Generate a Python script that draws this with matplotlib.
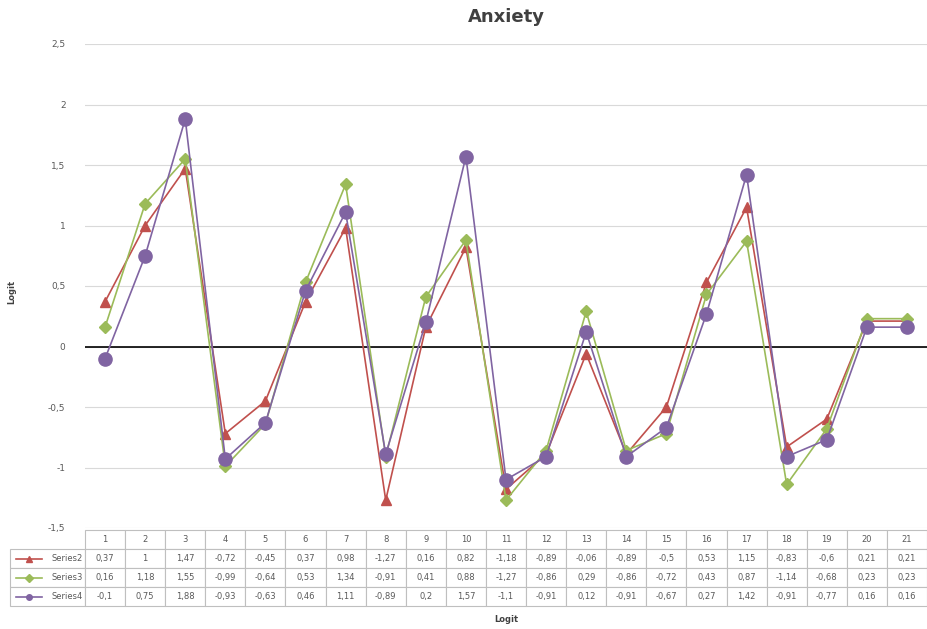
import matplotlib
matplotlib.use("Agg")
import matplotlib.pyplot as plt
from matplotlib.lines import Line2D
from matplotlib.ticker import FuncFormatter, MultipleLocator

categories = [str(i) for i in range(1, 22)]
series_names = ["Series2", "Series3", "Series4"]
series2 = [0.37, 1, 1.47, -0.72, -0.45, 0.37, 0.98, -1.27, 0.16, 0.82, -1.18,
           -0.89, -0.06, -0.89, -0.5, 0.53, 1.15, -0.83, -0.6, 0.21, 0.21]
series3 = [0.16, 1.18, 1.55, -0.99, -0.64, 0.53, 1.34, -0.91, 0.41, 0.88, -1.27,
           -0.86, 0.29, -0.86, -0.72, 0.43, 0.87, -1.14, -0.68, 0.23, 0.23]
series4 = [-0.1, 0.75, 1.88, -0.93, -0.63, 0.46, 1.11, -0.89, 0.2, 1.57, -1.1,
           -0.91, 0.12, -0.91, -0.67, 0.27, 1.42, -0.91, -0.77, 0.16, 0.16]
all_series = [series2, series3, series4]

colors = ["#C0504D", "#9BBB59", "#8064A2"]
markers = ["^", "D", "o"]
msizes = [7, 6, 9.5]

W, H = 928, 629
fig = plt.figure(figsize=(W / 100, H / 100), dpi=100)
ax_left, ax_right, ax_top, ax_bot = 85, 927, 44, 528
ax = fig.add_axes([ax_left / W, 1 - ax_bot / H, (ax_right - ax_left) / W, (ax_bot - ax_top) / H])

x = list(range(1, len(categories) + 1))
for vals, c, m, ms in zip(all_series, colors, markers, msizes):
    ax.plot(x, vals, color=c, marker=m, markersize=ms, linewidth=1.2, zorder=3)

ax.axhline(0, color="black", linewidth=1.2, zorder=2)
ax.set_xlim(0.5, len(categories) + 0.5)
ax.set_ylim(-1.5, 2.5)
ax.yaxis.set_major_locator(MultipleLocator(0.5))
ax.yaxis.set_major_formatter(FuncFormatter(lambda v, p: ("%g" % v).replace(".", ",")))
ax.grid(axis="y", color="#D9D9D9", linewidth=0.8, zorder=0)
ax.set_xticks([])
for s in ax.spines.values():
    s.set_visible(False)
ax.tick_params(axis="y", length=0, labelsize=6.5, labelcolor="#595959", pad=14)

ax.set_title("Anxiety", fontsize=13, fontweight="bold", color="#404040", pad=16)
fig.text(12 / W, 1 - 292 / H, "Logit", rotation=90, fontsize=6, fontweight="bold",
         color="#404040", ha="center", va="center")
fig.text(506 / W, 1 - 620 / H, "Logit", fontsize=6, fontweight="bold",
         color="#404040", ha="center", va="center")

# data table
tab_left, tab_right, tab_top, tab_bot = 10, 927, 530, 606
axw = ax_right - ax_left
axh = ax_bot - ax_top
bbox = [(tab_left - ax_left) / axw, (ax_bot - tab_bot) / axh,
        (tab_right - tab_left) / axw, (tab_bot - tab_top) / axh]
label_w = ax_left - tab_left
col_w = (ax_right - ax_left) / len(categories)
cell_text = []
for name, vals in zip(series_names, all_series):
    cell_text.append([name] + [("%g" % v).replace(".", ",") for v in vals])
tbl = ax.table(cellText=cell_text, colLabels=[""] + categories,
               colWidths=[label_w] + [col_w] * len(categories),
               cellLoc="center", bbox=bbox)
tbl.auto_set_font_size(False)
tbl.set_fontsize(6)
for (r, c), cell in tbl.get_celld().items():
    cell.set_edgecolor("#BFBFBF")
    cell.set_linewidth(0.8)
    cell.get_text().set_color("#595959")
    if r == 0 and c == 0:
        cell.visible_edges = ""
    if c == 0 and r > 0:
        cell._loc = "right"
        cell.get_text().set_horizontalalignment("right")
        cell.PAD = 0.03

# legend keys in row-label cells
row_h = (tab_bot - tab_top) / 4
for i, (c, m, ms) in enumerate(zip(colors, markers, msizes)):
    yc = tab_top + row_h * (i + 1.5)
    yf = 1 - yc / H
    fig.add_artist(Line2D([16 / W, 42 / W], [yf, yf], color=c, linewidth=1.2,
                          transform=fig.transFigure))
    fig.add_artist(Line2D([29 / W], [yf], color=c, marker=m, markersize=4,
                          transform=fig.transFigure))

fig.savefig("out.png", dpi=100, facecolor="white")
